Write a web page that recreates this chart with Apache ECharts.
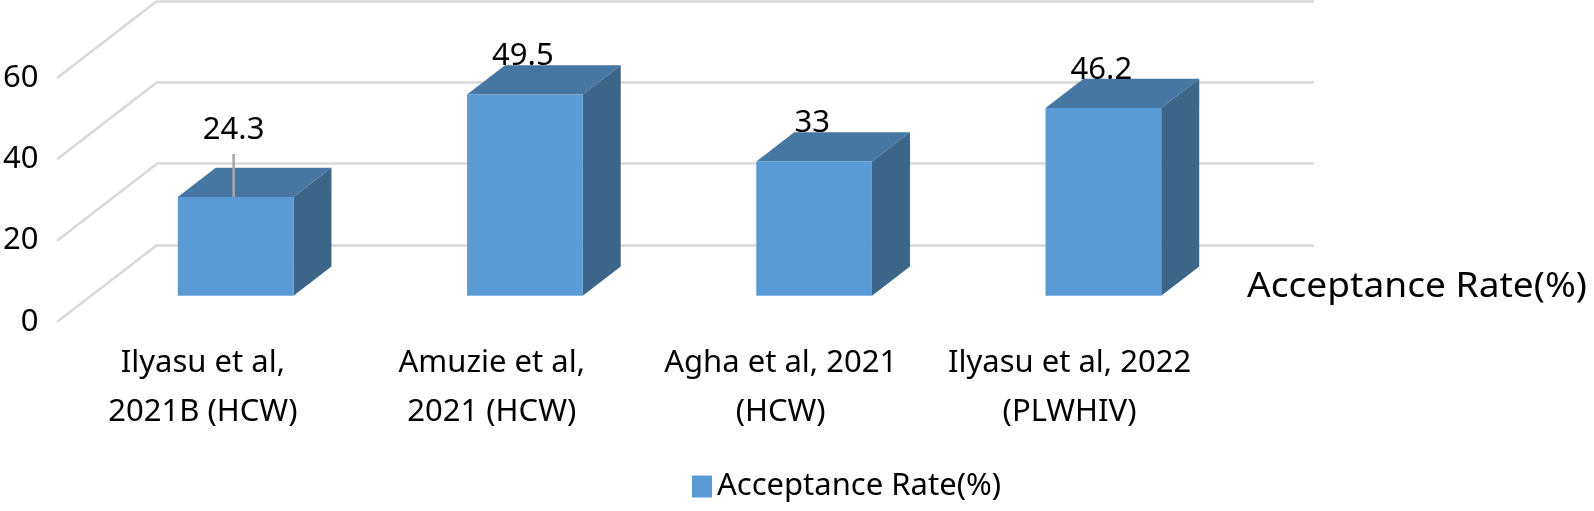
<!DOCTYPE html>
<html>
<head>
<meta charset="utf-8">
<script src="https://cdn.jsdelivr.net/npm/echarts@6/dist/echarts.min.js"></script>
<style>
  html, body { margin: 0; padding: 0; background: #fff; }
  #chart { width: 1594px; height: 511px; }
</style>
</head>
<body>
<div id="chart"></div>
<script>
const categories = ['Ilyasu et al,\n2021B (HCW)', 'Amuzie et al,\n2021 (HCW)', 'Agha et al, 2021\n(HCW)', 'Ilyasu et al, 2022\n(PLWHIV)']
const acceptanceRate = [24.3, 49.5, 33, 46.2]
const yTicks = [0, 20, 40, 60]
const seriesName = 'Acceptance Rate(%)'

const FONT = '"Noto Sans", "Open Sans", sans-serif'
// oblique floor depth: back wall -> front edge
const DEPTH_DX = -100
const DEPTH_DY = 77
const FRONT = 0.66 // bar front face (share of depth, from the back wall)
const BACK = 0.28  // bar back face
const BAR_W = 0.4
const LABEL_UP = 38
const MOVED_LABEL = { index: 0, lift: 29 } // label dragged up, with leader line

const chart = echarts.init(document.getElementById('chart'))

function renderBar(params, api) {
  const x = api.value(0)
  const v = api.value(1)
  const base = api.coord([x, 0])
  const top = api.coord([x, v])
  const w = api.size([1, 0])[0] * BAR_W
  const fx = DEPTH_DX * FRONT, fy = DEPTH_DY * FRONT
  const ddx = DEPTH_DX * (BACK - FRONT), ddy = DEPTH_DY * (BACK - FRONT)
  const cx = base[0] + fx
  const l = cx - w / 2, r = cx + w / 2
  const y0 = base[1] + fy, y1 = top[1] + fy

  const children = [
    { type: 'polygon', shape: { points: [[l, y1], [r, y1], [r + ddx, y1 + ddy], [l + ddx, y1 + ddy]] },
      style: { fill: '#4676A2' } },
    { type: 'polygon', shape: { points: [[r, y1], [r + ddx, y1 + ddy], [r + ddx, y0 + ddy], [r, y0]] },
      style: { fill: '#3B6689' } },
    { type: 'rect', shape: { x: l, y: y1, width: w, height: y0 - y1 },
      style: { fill: '#5B9BD5' } }
  ]
  let ly = y1 - LABEL_UP
  if (params.dataIndex === MOVED_LABEL.index) {
    ly -= MOVED_LABEL.lift
    children.push({ type: 'line', shape: { x1: cx - 2, y1: ly + 24, x2: cx - 2, y2: y1 },
      style: { stroke: '#A6A6A6', lineWidth: 2.5 } })
  }
  children.push({ type: 'text', x: cx - 2, y: ly,
    style: { text: String(v), fill: '#000', font: '31px ' + FONT, align: 'center', verticalAlign: 'middle' } })
  return { type: 'group', children }
}

function renderWall(params, api) {
  const p = api.coord([0, api.value(1)])
  const x = params.coordSys.x
  return { type: 'line', shape: { x1: x, y1: p[1], x2: x + DEPTH_DX, y2: p[1] + DEPTH_DY },
    style: { stroke: '#D9D9D9', lineWidth: 2.5 } }
}

const valueAxis = { type: 'value', min: 0, max: 60, interval: 20 }

chart.setOption({
  animation: false,
  textStyle: { fontFamily: FONT },
  grid: [
    // back wall
    { left: 157, top: 1, width: 1157, height: 244 },
    // front edge, carries the axis labels
    { left: 57, top: 78, width: 1157, height: 244 }
  ],
  xAxis: [
    { gridIndex: 0, type: 'category', data: categories, axisLine: { show: false }, axisTick: { show: false }, axisLabel: { show: false } },
    { gridIndex: 1, type: 'category', data: categories, axisLine: { show: false }, axisTick: { show: false },
      axisLabel: { color: '#000', fontSize: 31, lineHeight: 49, margin: 17, interval: 0 } }
  ],
  yAxis: [
    { ...valueAxis, gridIndex: 0, axisLabel: { show: false },
      splitLine: { lineStyle: { color: '#D9D9D9', width: 2.5 } } },
    { ...valueAxis, gridIndex: 1, splitLine: { show: false },
      axisLabel: { color: '#000', fontSize: 31, margin: 20 } }
  ],
  legend: {
    data: [{ name: seriesName, icon: 'rect' }],
    left: 692, top: 471, padding: 0,
    itemWidth: 20, itemHeight: 22, itemGap: 6,
    textStyle: { color: '#000', fontSize: 31 }
  },
  graphic: [
    { type: 'text', x: 1247, y: 287, scaleX: 1.06,
      style: { text: seriesName, fill: '#000', font: '35px ' + FONT, verticalAlign: 'middle' } }
  ],
  series: [
    { name: 'wall', type: 'custom', xAxisIndex: 0, yAxisIndex: 0, silent: true,
      renderItem: renderWall, data: yTicks.map(t => [0, t]) },
    { name: seriesName, type: 'custom', xAxisIndex: 0, yAxisIndex: 0,
      itemStyle: { color: '#5B9BD5' },
      renderItem: renderBar, data: acceptanceRate.map((v, i) => [i, v]) }
  ]
})
</script>
</body>
</html>
